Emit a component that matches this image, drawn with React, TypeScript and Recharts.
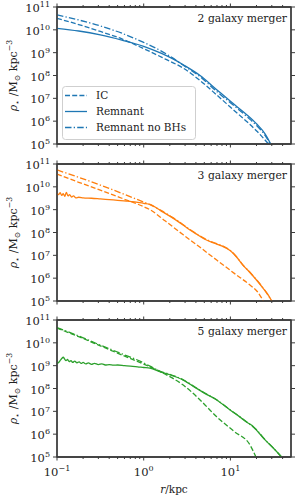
import React from 'react';
import { LineChart, Line, XAxis, YAxis, Legend, ReferenceArea } from 'recharts';

const FONT = "'DejaVu Serif', 'Liberation Serif', serif";
const INK = '#3a3a3a';

const xMajorTicks = [0.1, 1, 10];
const xMinorTicks = [0.2, 0.3, 0.4, 0.5, 0.6, 0.7, 0.8, 0.9, 2, 3, 4, 5, 6, 7, 8, 9, 20, 30, 40];
const yTicks = [1e5, 1e6, 1e7, 1e8, 1e9, 1e10, 1e11];
const xDomain = [0.1, 50];
const yDomain = [1e5, 1e11];

const seriesNames = ['IC', 'Remnant', 'Remnant no BHs'];
const panelTitles = ['2 galaxy merger', '3 galaxy merger', '5 galaxy merger'];
const panelColors = ['#1f77b4', '#ff7f0e', '#2ca02c'];

// 2 galaxy merger
const r2IC = [0.1, 0.178, 0.316, 0.56, 1.0, 1.18, 1.78, 2.86, 4.47, 6.95, 11.2, 15.8, 20.4, 24, 27.5];
const rho2IC = [3.2e10, 1.7e10, 8.5e9, 4.0e9, 1.5e9, 1.12e9, 5.2e8, 2.1e8, 6.0e7, 1.41e7, 2.8e6, 8.9e5, 3.5e5, 1.8e5, 1.0e5];
const r2Rem = [0.1, 0.178, 0.316, 0.56, 1.0, 1.58, 2.2, 2.86, 4.47, 6.95, 11.2, 15.8, 20.4, 25.1, 29.2];
const rho2Rem = [1.17e10, 8.9e9, 6.0e9, 3.55e9, 1.9e9, 9.5e8, 5.2e8, 2.95e8, 1.0e8, 2.4e7, 5.2e6, 1.78e6, 7.1e5, 2.8e5, 1.0e5];
const r2NoBH = [0.1, 0.178, 0.316, 0.56, 1.0, 1.58, 2.2, 2.86, 4.47, 6.95, 11.2, 15.8, 20.4, 25.1, 28.8];
const rho2NoBH = [4.5e10, 2.7e10, 1.48e10, 7.1e9, 2.8e9, 1.2e9, 5.6e8, 2.8e8, 8.9e7, 2.0e7, 4.5e6, 1.48e6, 6.0e5, 2.4e5, 1.0e5];

// 3 galaxy merger
const r3IC = [0.1, 0.178, 0.316, 0.56, 1.0, 1.18, 1.78, 2.86, 4.47, 6.95, 11.2, 16.8, 20.4, 24];
const rho3IC = [3.6e10, 1.58e10, 7.2e9, 3.16e9, 1.35e9, 1.0e9, 3.16e8, 7.9e7, 2.24e7, 6.2e6, 1.58e6, 5.0e5, 2.6e5, 1.0e5];
const r3Rem = [0.1, 0.104, 0.109, 0.113, 0.118, 0.123, 0.128, 0.134, 0.14, 0.147, 0.155, 0.165, 0.178, 0.2, 0.25, 0.316, 0.4, 0.5, 0.63, 0.79, 1.0, 1.18, 1.58, 2.0, 2.5, 3.16, 3.98, 5.0, 6.3, 7.9, 9.1, 10.0, 11.7, 14.1, 16.6, 20.0, 24.0, 26.9, 30.0];
const rho3Rem = [5.2e9, 4.6e9, 5.5e9, 4.2e9, 5.0e9, 3.8e9, 5.75e9, 4.0e9, 4.6e9, 3.55e9, 4.0e9, 3.3e9, 3.5e9, 3.3e9, 3.16e9, 2.95e9, 2.75e9, 2.57e9, 2.4e9, 2.2e9, 1.9e9, 1.7e9, 8.9e8, 5.2e8, 3.0e8, 1.58e8, 8.9e7, 5.2e7, 3.55e7, 2.6e7, 2.0e7, 1.58e7, 8.7e6, 3.55e6, 1.86e6, 8.3e5, 3.5e5, 2.0e5, 1.0e5];
const r3NoBH = [0.1, 0.178, 0.316, 0.56, 1.0, 1.18, 1.58, 2.0, 2.5, 3.16, 3.98, 5.0, 6.3, 7.9, 10, 11.7, 14.1, 16.6, 20, 24, 30];
const rho3NoBH = [5.5e10, 2.6e10, 1.2e10, 5.2e9, 2.14e9, 1.66e9, 9.3e8, 5.4e8, 3.16e8, 1.66e8, 9.3e7, 5.5e7, 3.7e7, 2.7e7, 1.62e7, 8.9e6, 3.6e6, 1.9e6, 8.5e5, 3.6e5, 1.0e5];

// 5 galaxy merger
const r5IC = [0.1, 0.178, 0.316, 0.56, 1.0, 1.18, 1.78, 2.86, 4.47, 6.95, 11.2, 16.8, 19.7];
const rho5IC = [4.4e10, 1.86e10, 7.4e9, 2.95e9, 1.17e9, 8.9e8, 4.2e8, 1.41e8, 3.16e7, 5.75e6, 1.26e6, 3.4e5, 1.0e5];
const r5Rem = [0.1, 0.105, 0.11, 0.114, 0.118, 0.122, 0.127, 0.132, 0.138, 0.145, 0.152, 0.16, 0.17, 0.18, 0.19, 0.2, 0.215, 0.23, 0.25, 0.27, 0.3, 0.33, 0.36, 0.4, 0.45, 0.5, 0.6, 0.7, 0.85, 1.0, 1.18, 1.58, 2.0, 2.86, 3.98, 5.0, 6.95, 10, 12.6, 15.8, 17.8, 20, 25.1, 31.6, 38.9];
const rho5Rem = [1.26e9, 1.41e9, 1.78e9, 2.1e9, 2.34e9, 2.0e9, 1.66e9, 1.86e9, 1.51e9, 1.66e9, 1.38e9, 1.58e9, 1.32e9, 1.48e9, 1.26e9, 1.38e9, 1.2e9, 1.32e9, 1.15e9, 1.26e9, 1.12e9, 1.2e9, 1.07e9, 1.12e9, 1.05e9, 1.07e9, 1.0e9, 9.5e8, 8.9e8, 8.3e8, 7.8e8, 5.2e8, 4.0e8, 2.34e8, 1.07e8, 6.3e7, 3.16e7, 1.12e7, 6.0e6, 3.16e6, 2.4e6, 1.5e6, 5.6e5, 2.34e5, 1.0e5];
const r5NoBH = [0.1, 0.178, 0.316, 0.56, 1.0, 1.18, 1.58, 2.0, 2.86, 3.98, 5.0, 6.95, 10, 15.8, 20, 25.1, 31.6, 38.9];
const rho5NoBH = [4.6e10, 2.0e10, 7.9e9, 3.3e9, 1.32e9, 9.5e8, 5.5e8, 4.2e8, 2.4e8, 1.1e8, 6.5e7, 3.2e7, 1.15e7, 3.2e6, 1.55e6, 5.75e5, 2.4e5, 1.0e5];

type Pt = { r: number; rho: number };
const zip = (rs: number[], vs: number[]): Pt[] => rs.map((r, i) => ({ r, rho: vs[i] }));

const xAllTicks = [...xMajorTicks, ...xMinorTicks].sort((a, b) => a - b);
const dashStyles: (string | undefined)[] = ['5 2.2', undefined, '6.5 2.2 1.3 2.2'];
const plotTops = [7, 164, 320];
const PLOT_H = 137;

const panels = [
  { title: panelTitles[0], color: panelColors[0], series: [zip(r2IC, rho2IC), zip(r2Rem, rho2Rem), zip(r2NoBH, rho2NoBH)] },
  { title: panelTitles[1], color: panelColors[1], series: [zip(r3IC, rho3IC), zip(r3Rem, rho3Rem), zip(r3NoBH, rho3NoBH)] },
  { title: panelTitles[2], color: panelColors[2], series: [zip(r5IC, rho5IC), zip(r5Rem, rho5Rem), zip(r5NoBH, rho5NoBH)] },
];

const supText = (e: number) => (e < 0 ? '\u2212' + Math.abs(e) : String(e));
const isMajor = (v: number) => xMajorTicks.includes(v);

const LeftTick = (props: any) => {
  const { x, y, payload } = props;
  const e = Math.round(Math.log10(payload.value));
  return (
    <g>
      <line x1={x} x2={x - 4} y1={y} y2={y} stroke={INK} strokeWidth={1} />
      <text x={x - 7} y={y + 5} textAnchor="end" fontFamily={FONT} fontSize={11.5} fill="#222">
        10<tspan dy={-4.8} fontSize={8}>{supText(e)}</tspan>
      </text>
    </g>
  );
};

const RightTick = (props: any) => {
  const { x, y } = props;
  return <line x1={x} x2={x + 4} y1={y} y2={y} stroke={INK} strokeWidth={1} />;
};

const TopTick = (props: any) => {
  const { x, y, payload } = props;
  const len = isMajor(payload.value) ? 3.5 : 2;
  return <line x1={x} x2={x} y1={y} y2={y - len} stroke={INK} strokeWidth={1} />;
};

const makeBottomTick = (withLabels: boolean) => (props: any) => {
  const { x, y, payload } = props;
  const major = isMajor(payload.value);
  const len = major ? 3.5 : 2;
  const e = Math.round(Math.log10(payload.value));
  return (
    <g>
      <line x1={x} x2={x} y1={y} y2={y + len} stroke={INK} strokeWidth={1} />
      {withLabels && major && (
        <text x={x} y={y + 19} textAnchor="middle" fontFamily={FONT} fontSize={11.5} fill="#222">
          10<tspan dy={-4.8} fontSize={8}>{supText(e)}</tspan>
        </text>
      )}
    </g>
  );
};
const BottomTickPlain = makeBottomTick(false);
const BottomTickLabeled = makeBottomTick(true);

const LegendBox = ({ color }: { color: string }) => (
  <svg width={134} height={54} style={{ display: 'block' }}>
    <rect x={0.5} y={0.5} width={133} height={53} rx={3} fill="rgba(255,255,255,0.85)" stroke="#cfcfcf" />
    {seriesNames.map((n, i) => (
      <g key={n}>
        <line x1={3} x2={25} y1={9.5 + 16 * i} y2={9.5 + 16 * i} stroke={color} strokeWidth={1.3} strokeDasharray={dashStyles[i]} />
        <text x={34} y={13.3 + 16 * i} fontFamily={FONT} fontSize={10.5} fill="#222">{n}</text>
      </g>
    ))}
  </svg>
);

const axisLineStyle = { stroke: INK, strokeWidth: 1.3 };

function Panel({ idx }: { idx: number }) {
  const p = panels[idx];
  const last = idx === 2;
  const chartTop = plotTops[idx] - 7;
  const height = last ? 500 - chartTop : 152;
  const bottomH = height - 7 - PLOT_H;
  return (
    <div style={{ position: 'absolute', left: 0, top: chartTop }}>
      <LineChart width={300} height={height} margin={{ top: 0, right: 0, bottom: 0, left: 0 }}>
        <XAxis xAxisId="b" orientation="bottom" dataKey="r" type="number" scale="log" domain={xDomain} allowDataOverflow ticks={xAllTicks} interval={0} height={bottomH} tick={last ? <BottomTickLabeled /> : <BottomTickPlain />} tickLine={false} tickSize={0} tickMargin={0} axisLine={axisLineStyle} stroke={INK} />
        <XAxis xAxisId="t" orientation="top" dataKey="r" type="number" scale="log" domain={xDomain} allowDataOverflow ticks={xAllTicks} interval={0} height={7} tick={<TopTick />} tickLine={false} tickSize={0} tickMargin={0} axisLine={axisLineStyle} stroke={INK} />
        <YAxis yAxisId="l" orientation="left" type="number" scale="log" domain={yDomain} allowDataOverflow ticks={yTicks} interval={0} width={57} tick={<LeftTick />} tickLine={false} tickSize={0} tickMargin={0} axisLine={axisLineStyle} stroke={INK} />
        <YAxis yAxisId="r" orientation="right" type="number" scale="log" domain={yDomain} allowDataOverflow ticks={yTicks} interval={0} width={9} tick={<RightTick />} tickLine={false} tickSize={0} tickMargin={0} axisLine={axisLineStyle} stroke={INK} />
        {p.series.map((d, i) => (
          <Line
            key={i}
            xAxisId="b"
            yAxisId="l"
            data={d}
            dataKey="rho"
            name={seriesNames[i]}
            type="monotone"
            stroke={p.color}
            strokeWidth={1.3}
            strokeDasharray={dashStyles[i]}
            dot={false}
            activeDot={false}
            isAnimationActive={false}
          />
        ))}
        <ReferenceArea xAxisId="b" yAxisId="l" x1={xDomain[0]} x2={xDomain[1]} y1={yDomain[0]} y2={yDomain[1]} fill="none" fillOpacity={0} stroke={INK} strokeWidth={1.3} strokeOpacity={1} ifOverflow="visible" />
        {idx === 0 && (
          <Legend
            layout="horizontal"
            verticalAlign="middle"
            align="center"
            content={() => <LegendBox color={p.color} />}
            wrapperStyle={{ left: 62, top: 86, width: 134, height: 54 }}
          />
        )}
      </LineChart>
    </div>
  );
}

export default function App() {
  return (
    <div style={{ position: 'absolute', left: 0, top: 0, width: 300, height: 500, background: '#fff', overflow: 'hidden' }}>
      <Panel idx={0} />
      <Panel idx={1} />
      <Panel idx={2} />
      <svg width={300} height={500} style={{ position: 'absolute', left: 0, top: 0, pointerEvents: 'none' }}>
        {panels.map((p, i) => (
          <g key={i} fontFamily={FONT} fill="#222">
            <text x={287} y={plotTops[i] + 14.5} textAnchor="end" fontSize={10.8}>{p.title}</text>
            <text transform={`translate(17, ${plotTops[i] + PLOT_H / 2}) rotate(-90)`} textAnchor="middle" fontSize={11}>
              <tspan fontStyle="italic">ρ</tspan>
              <tspan fontSize={7.8} dy={2.5}>⋆</tspan>
              <tspan dy={-2.5}> /M</tspan>
              <tspan fontSize={7.8} dy={2.5}>⊙</tspan>
              <tspan dy={-2.5}> kpc</tspan>
              <tspan fontSize={7.8} dy={-4.8}>−3</tspan>
            </text>
          </g>
        ))}
        <text x={174} y={493} textAnchor="middle" fontFamily={FONT} fontSize={10.5} fill="#222">
          <tspan fontStyle="italic">r</tspan>/kpc
        </text>
      </svg>
    </div>
  );
}
